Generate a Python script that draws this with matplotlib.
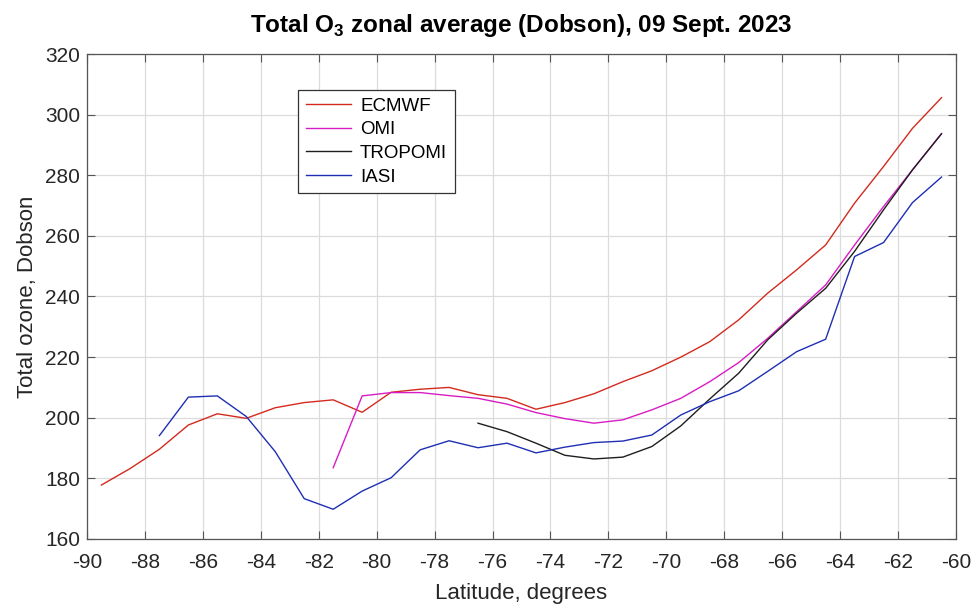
import numpy as np
from matplotlib import pyplot as plt

plt.rcParams['font.family'] = ['Liberation Sans', 'DejaVu Sans']
plt.rcParams['mathtext.fontset'] = 'custom'
plt.rcParams['mathtext.rm'] = 'Liberation Sans:bold'
plt.rcParams['mathtext.bf'] = 'Liberation Sans:bold'
plt.rcParams['axes.unicode_minus'] = False

# Latitude grid (1 degree bins, centred on half degrees)
lat_ecmwf = np.arange(-89.5, -60.0, 1.0)
ecmwf = [177.8, 183.3, 189.6, 197.6, 201.3, 199.8, 203.3, 205.0, 205.9, 201.8,
         208.4, 209.4, 210.0, 207.6, 206.4, 202.8, 205.0, 207.9, 211.9, 215.5,
         220.0, 225.1, 232.3, 241.1, 248.8, 257.0, 270.8, 282.9, 295.5, 305.6]

lat_omi = np.arange(-81.5, -60.0, 1.0)
omi = [183.5, 207.2, 208.3, 208.3, 207.3, 206.4, 204.5, 201.7, 199.7, 198.2,
       199.3, 202.6, 206.4, 211.9, 218.2, 226.2, 235.0, 243.8, 257.0, 269.7,
       281.8, 293.7]

lat_tropomi = np.arange(-76.5, -60.0, 1.0)
tropomi = [198.2, 195.4, 191.6, 187.6, 186.4, 187.0, 190.5, 197.3, 206.2, 214.7,
           225.7, 234.5, 242.7, 254.9, 268.6, 281.8, 293.7]

lat_iasi = np.arange(-87.5, -60.0, 1.0)
iasi = [194.1, 206.8, 207.2, 200.4, 188.8, 173.3, 169.8, 175.8, 180.2, 189.4,
        192.4, 190.1, 191.6, 188.4, 190.3, 191.8, 192.3, 194.3, 200.9, 205.3,
        208.9, 215.3, 221.8, 225.9, 253.2, 257.8, 271.0, 279.4]

fig = plt.figure(figsize=(9.75, 6.09), dpi=100)
ax = fig.add_axes([0.0892, 0.115, 0.8913, 0.7963])

ax.plot(lat_ecmwf, ecmwf, color='#d42a1e', lw=1.0, label='ECMWF')
ax.plot(lat_omi, omi, color='#d81cc4', lw=1.0, label='OMI')
ax.plot(lat_tropomi, tropomi, color='#1e1e1e', lw=1.0, label='TROPOMI')
ax.plot(lat_iasi, iasi, color='#1f2fb4', lw=1.0, label='IASI')

ax.set_xlim(-90, -60)
ax.set_ylim(160, 320)
ax.set_xticks(np.arange(-90, -59, 2))
ax.set_yticks(np.arange(160, 321, 20))
ax.grid(True, color='#dcdcdc', lw=0.9)
ax.set_axisbelow(True)
ax.tick_params(direction='in', top=True, right=True, labelsize=15, length=6,
               color='#555555', labelcolor='#262626', pad=5)
ax.tick_params(axis='x', pad=10)
for s in ax.spines.values():
    s.set_color('#555555')
    s.set_linewidth(0.9)

ax.set_xlabel('Latitude, degrees', fontsize=16, color='#262626', labelpad=8)
ax.set_ylabel('Total ozone, Dobson', fontsize=16, color='#262626', labelpad=5)
ax.set_title('Total O$_\\mathbf{3}$ zonal average (Dobson), 09 Sept. 2023',
             fontsize=17.5, fontweight='bold', pad=16)

leg = ax.legend(loc='upper left', bbox_to_anchor=(0.243, 0.926), fontsize=13.5,
                fancybox=False, framealpha=1, edgecolor='#333333',
                handlelength=2.4, labelspacing=0.35, borderpad=0.4,
                handletextpad=0.5, borderaxespad=0)
leg.get_frame().set_linewidth(0.9)

fig.savefig('out.png', dpi=100)
